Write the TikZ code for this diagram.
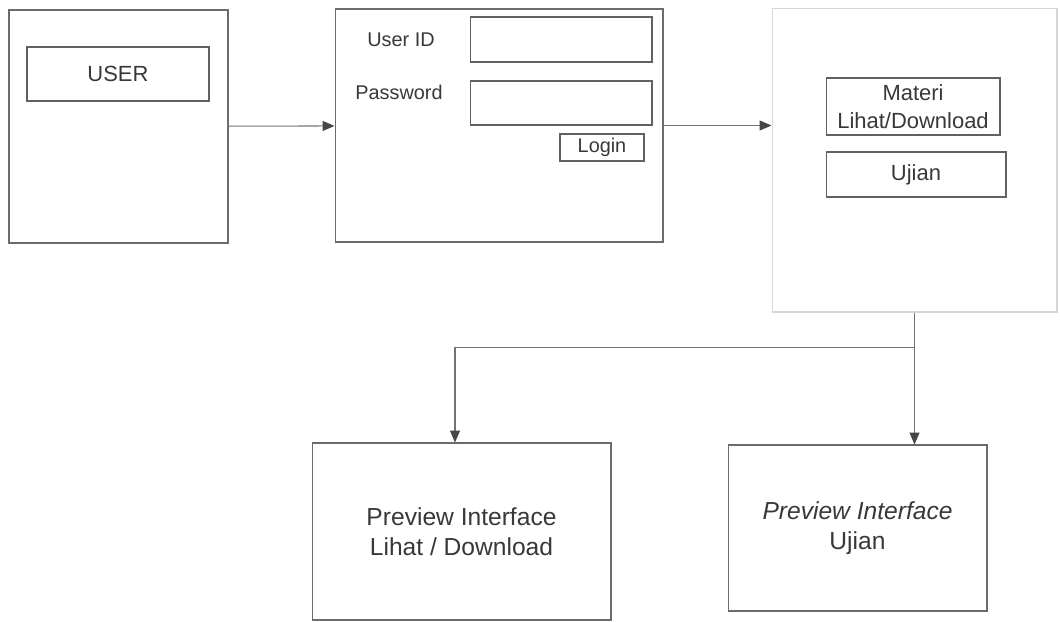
\documentclass[tikz,border=0pt]{standalone}
\usepackage{fontspec}
\setmainfont{Liberation Sans}
\usetikzlibrary{arrows.meta,calc}
\begin{document}
\begin{tikzpicture}[x=0.02cm,y=-0.02cm,
  every node/.style={text=black!78, font=\fontsize{12.5}{15}\selectfont},
  frame/.style={draw=black!58, line width=0.6pt, rectangle, inner sep=0pt},
  faint/.style={draw=black!16, line width=0.6pt, rectangle, inner sep=0pt},
  field/.style={draw=black!62, line width=0.6pt, rectangle, inner sep=0pt},
  small/.style={font=\fontsize{11.3}{13}\selectfont},
  big/.style={font=\fontsize{14}{17}\selectfont, align=center},
  conn/.style={draw=black!55, line width=0.6pt},
  flow/.style={conn, -{Triangle[length=2.4mm,width=2mm,color=black!72]}}
]
\useasboundingbox (0,0) rectangle (1060,622);

% user screen
\node[frame, minimum width=4.38cm, minimum height=4.66cm] (user) at (118.5,126.5) {};
\node[field, minimum width=3.64cm, minimum height=1.08cm] (userlbl) at (118,74) {USER};

% login screen
\node[frame, minimum width=6.56cm, minimum height=4.66cm] (login) at (499,125.5) {};
\node[small] (idlbl) at (401,40) {User ID};
\node[field, minimum width=3.64cm, minimum height=0.9cm] (idfield) at (561,39.5) {};
\node[small] (pwlbl) at (399,92) {Password};
\node[field, minimum width=3.64cm, minimum height=0.88cm] (pwfield) at (561,103) {};
\node[field, small, minimum width=1.68cm, minimum height=0.54cm] (loginbtn) at (602,147.5) {Login};

% menu screen
\node[faint, minimum width=5.7cm, minimum height=6.08cm] (menu) at (914.5,160) {};
\node[field, align=center, minimum width=3.48cm, minimum height=1.14cm] (materi) at (913,106.5) {Materi\\[1pt]Lihat/Download};
\node[field, minimum width=3.6cm, minimum height=0.9cm] (ujian) at (916,174.5) {Ujian};

% preview screens
\node[frame, big, minimum width=5.98cm, minimum height=3.54cm] (prevL) at (461.5,531.5) {Preview Interface\\Lihat / Download};
\node[frame, big, minimum width=5.18cm, minimum height=3.32cm] (prevU) at (857.5,528) {\itshape Preview Interface\\Ujian};

% connectors
\draw[flow] (user) -- (login);
\draw[flow] (login.east) -- (login.east -| menu.west);
\coordinate (split) at ($(menu.south)+(0,35)$);
\draw[flow] (menu.south) -- (menu.south |- prevU.north);
\draw[flow] (split) -| ([xshift=-0.13cm]prevL.north);
\end{tikzpicture}
\end{document}
